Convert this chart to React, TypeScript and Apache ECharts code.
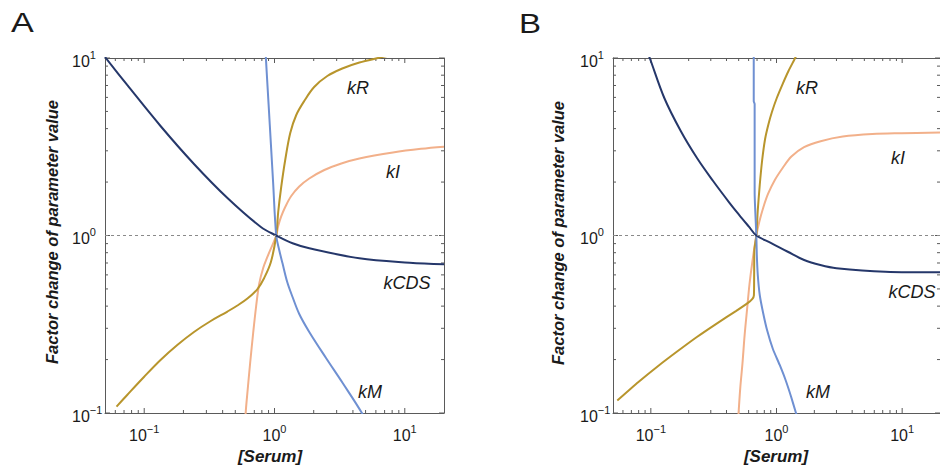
import React, { useEffect, useRef } from "react";
import * as echarts from "echarts";

const X_MIN = 0.05;
const X_MAX = 20;
const Y_MIN = 0.1;
const Y_MAX = 10;

// Panel A curves [serum, factor]
const kCDS_A = [[0.05, 10.13], [0.074, 7.05], [0.1334, 4.14], [0.241, 2.53], [0.4353, 1.627], [0.786, 1.117], [1.031, 1.0], [1.376, 0.904], [1.85, 0.847], [4.48, 0.744], [10.9, 0.703], [20, 0.688]];
const kM_A = [[0.855, 11], [0.8587, 10.02], [0.9007, 5.5], [0.94, 3.2], [0.9755, 2.0], [1.031, 1.0], [1.0868, 0.8286], [1.152, 0.6971], [1.2522, 0.547], [1.3757, 0.4503], [1.5488, 0.3612], [1.8485, 0.2861], [2.4857, 0.2041], [3.336, 0.1476], [4.687, 0.1], [5.2, 0.085]];
const kR_A = [[0.0613, 0.1086], [0.074, 0.1263], [0.0995, 0.1595], [0.1334, 0.1989], [0.1794, 0.2416], [0.241, 0.2861], [0.3242, 0.3299], [0.4353, 0.373], [0.5194, 0.4033], [0.6197, 0.4416], [0.74, 0.4994], [0.8334, 0.5763], [0.9382, 0.7089], [1.031, 1.0], [1.0677, 1.3566], [1.1259, 1.876], [1.2085, 2.663], [1.3208, 3.779], [1.469, 4.775], [1.6915, 5.725], [2.0157, 6.865], [2.5423, 7.915], [3.3145, 8.728], [4.4837, 9.432], [6.2285, 10.0], [7.5, 10.3]];
const kI_A = [[0.598, 0.09], [0.6005, 0.1], [0.6221, 0.1348], [0.6503, 0.1913], [0.6859, 0.2823], [0.7232, 0.4007], [0.7625, 0.5331], [0.8188, 0.656], [0.8834, 0.7598], [1.031, 1.0], [1.0677, 1.131], [1.1259, 1.28], [1.2085, 1.447], [1.344, 1.669], [1.5487, 1.888], [1.8485, 2.095], [2.4125, 2.339], [3.2579, 2.545], [4.4837, 2.715], [8.1006, 2.935], [13.31, 3.079], [20, 3.164]];

// Panel B curves [serum, factor]
const kCDS_B = [[0.095, 10.5], [0.098, 10], [0.128, 5.951], [0.173, 3.879], [0.233, 2.733], [0.313, 2.028], [0.421, 1.534], [0.504, 1.308], [0.603, 1.122], [0.6912, 1.0], [0.915, 0.904], [1.23, 0.81], [1.66, 0.728], [2.233, 0.682], [3.0, 0.654], [7.33, 0.625], [20, 0.62]];
const kM_B = [[0.659, 11], [0.659, 5.7], [0.67, 5.5], [0.67, 1.75], [0.6912, 1.0], [0.6973, 0.7764], [0.7097, 0.599], [0.7356, 0.4622], [0.7829, 0.366], [0.841, 0.2935], [0.9361, 0.2294], [1.0607, 0.1864], [1.1807, 0.1534], [1.3068, 0.1235], [1.4289, 0.1], [1.5, 0.09]];
const kR_B = [[0.0541, 0.1175], [0.0797, 0.1494], [0.1144, 0.184], [0.1628, 0.2226], [0.2325, 0.268], [0.332, 0.318], [0.475, 0.375], [0.589, 0.416], [0.643, 0.44], [0.661, 0.46], [0.664, 0.6], [0.667, 0.83], [0.6912, 1.0], [0.7097, 1.392], [0.7356, 1.925], [0.7692, 2.663], [0.8114, 3.498], [0.8638, 4.249], [0.9196, 4.963], [1.0054, 5.951], [1.1251, 7.202], [1.2457, 8.45], [1.4038, 9.96], [1.5, 11]];
const kI_B = [[0.497, 0.095], [0.499, 0.1], [0.5147, 0.1382], [0.536, 0.19], [0.5578, 0.275], [0.586, 0.397], [0.6099, 0.5331], [0.64, 0.697], [0.6912, 1.0], [0.729, 1.191], [0.783, 1.429], [0.856, 1.714], [0.97, 2.054], [1.119, 2.4], [1.314, 2.786], [1.657, 3.149], [2.245, 3.4], [3.37, 3.61], [5.79, 3.73], [9.88, 3.77], [20, 3.8]];

// Ticks
const xMajorTicks = [0.1, 1, 10];
const xMinorTicks = [0.06, 0.07, 0.08, 0.09, 0.2, 0.3, 0.4, 0.5, 0.6, 0.7, 0.8, 0.9, 2, 3, 4, 5, 6, 7, 8, 9];
const yMajorTicks = [0.1, 1, 10];
const yMinorTicks = [0.2, 0.3, 0.4, 0.5, 0.6, 0.7, 0.8, 0.9, 2, 3, 4, 5, 6, 7, 8, 9];

const COLORS = {
  kCDS: "#25376a",
  kM: "#6f90d2",
  kR: "#b8952c",
  kI: "#f2b08a",
};

const FONT = "'Liberation Sans', Arial, sans-serif";
const AXIS_COLOR = "#5a5a5a";
const TEXT_COLOR = "#1a1a1a";

const powLabel = (v: number) => {
  const l = Math.log10(v);
  const e = Math.round(l);
  if (Math.abs(l - e) > 1e-6) return "";
  const s = e < 0 ? "\u2212" + -e : String(e);
  return `{b|10}{s|${s}}`;
};

const richStyle = {
  b: { fontSize: 16, lineHeight: 24, fontFamily: FONT, color: TEXT_COLOR },
  s: { fontSize: 11, lineHeight: 12, verticalAlign: "top", fontFamily: FONT, color: TEXT_COLOR },
};

const tickData = [
  ...xMajorTicks.map((v) => [v, 1, 0, 1]),
  ...xMinorTicks.map((v) => [v, 1, 0, 0]),
  ...yMajorTicks.map((v) => [1, v, 1, 1]),
  ...yMinorTicks.map((v) => [1, v, 1, 0]),
];

const tickRenderer = (params: any, api: any) => {
  const kind = api.value(2);
  const major = api.value(3) === 1;
  const len = major ? 5 : 3;
  const style = { stroke: AXIS_COLOR, lineWidth: 1 };
  if (kind === 0) {
    const x = api.value(0);
    const b = api.coord([x, Y_MIN]);
    const t = api.coord([x, Y_MAX]);
    return {
      type: "group",
      children: [
        { type: "line", shape: { x1: b[0], y1: b[1], x2: b[0], y2: b[1] - len }, style },
        { type: "line", shape: { x1: t[0], y1: t[1], x2: t[0], y2: t[1] + len }, style },
      ],
    };
  }
  const y = api.value(1);
  const l = api.coord([X_MIN, y]);
  const r = api.coord([X_MAX, y]);
  return {
    type: "group",
    children: [
      { type: "line", shape: { x1: l[0], y1: l[1], x2: l[0] + len, y2: l[1] }, style },
      { type: "line", shape: { x1: r[0], y1: r[1], x2: r[0] - len, y2: r[1] }, style },
    ],
  };
};

function makeAxes(grid: number) {
  const axisLine = { show: true, lineStyle: { color: AXIS_COLOR, width: 1 } };
  const xs = [
    {
      type: "log", gridIndex: grid, min: X_MIN, max: X_MAX, position: "bottom",
      axisLine, axisTick: { show: false }, splitLine: { show: false },
      axisLabel: { formatter: powLabel, rich: richStyle, margin: 10, showMinLabel: false, showMaxLabel: false },
    },
    {
      type: "log", gridIndex: grid, min: X_MIN, max: X_MAX, position: "top",
      axisLine, axisTick: { show: false }, splitLine: { show: false }, axisLabel: { show: false },
    },
  ];
  const ys = [
    {
      type: "log", gridIndex: grid, min: Y_MIN, max: Y_MAX, position: "left",
      axisLine, axisTick: { show: false }, splitLine: { show: false },
      axisLabel: { formatter: powLabel, rich: richStyle, margin: 33, align: "left", padding: [6, 0, 0, 0] },
    },
    {
      type: "log", gridIndex: grid, min: Y_MIN, max: Y_MAX, position: "right",
      axisLine, axisTick: { show: false }, splitLine: { show: false }, axisLabel: { show: false },
    },
  ];
  return { xs, ys };
}

function lineSeries(name: string, data: number[][], color: string, axisIdx: number, extra: any = {}) {
  return {
    type: "line",
    name,
    data,
    xAxisIndex: axisIdx,
    yAxisIndex: axisIdx,
    showSymbol: false,
    smooth: 0.35,
    clip: true,
    silent: true,
    lineStyle: { color, width: 2 },
    ...extra,
  };
}

const dashedOne = {
  silent: true,
  symbol: "none",
  label: { show: false },
  lineStyle: { type: [3, 3], color: "#8a8a8a", width: 1 },
  data: [{ yAxis: 1 }],
};

function textEl(text: string, x: number, y: number, opts: any = {}) {
  return {
    type: "text",
    x,
    y,
    rotation: opts.rotation || 0,
    scaleX: opts.scaleX || 1,
    style: {
      text,
      fill: TEXT_COLOR,
      fontFamily: FONT,
      fontSize: opts.fontSize || 18,
      fontStyle: opts.fontStyle || "italic",
      fontWeight: opts.fontWeight || "normal",
      align: "center",
      verticalAlign: "middle",
    },
  };
}

export default function App() {
  const ref = useRef<HTMLDivElement>(null);
  useEffect(() => {
    if (!ref.current) return;
    const chart = echarts.init(ref.current, null, { renderer: "svg" });
    const a = makeAxes(0);
    const b = makeAxes(1);
    const option: any = {
      animation: false,
      backgroundColor: "#ffffff",
      grid: [
        { left: 105, top: 58, width: 339, height: 355 },
        { left: 613, top: 58, width: 337, height: 355 },
      ],
      xAxis: [...a.xs, ...b.xs],
      yAxis: [...a.ys, ...b.ys],
      series: [
        lineSeries("kI", kI_A, COLORS.kI, 0),
        lineSeries("kR", kR_A, COLORS.kR, 0),
        lineSeries("kM", kM_A, COLORS.kM, 0),
        lineSeries("kCDS", kCDS_A, COLORS.kCDS, 0, { markLine: dashedOne }),
        lineSeries("kI", kI_B, COLORS.kI, 2),
        lineSeries("kR", kR_B, COLORS.kR, 2, { smooth: 0.2 }),
        lineSeries("kM", kM_B, COLORS.kM, 2, { smooth: 0.2 }),
        lineSeries("kCDS", kCDS_B, COLORS.kCDS, 2, { markLine: dashedOne }),
        { type: "custom", xAxisIndex: 0, yAxisIndex: 0, data: tickData, renderItem: tickRenderer, silent: true, encode: { x: 0, y: 1 } },
        { type: "custom", xAxisIndex: 2, yAxisIndex: 2, data: tickData, renderItem: tickRenderer, silent: true, encode: { x: 0, y: 1 } },
      ],
      graphic: [
        textEl("A", 22.5, 23, { fontSize: 28, fontStyle: "normal", scaleX: 1.22 }),
        textEl("B", 530, 23, { fontSize: 28, fontStyle: "normal", scaleX: 1.18 }),
        textEl("Factor change of parameter value", 52, 232, { fontSize: 16.5, fontWeight: "bold", rotation: Math.PI / 2 }),
        textEl("Factor change of parameter value", 558, 233, { fontSize: 16.5, fontWeight: "bold", rotation: Math.PI / 2 }),
        textEl("[Serum]", 270, 456, { fontSize: 17, fontWeight: "bold" }),
        textEl("[Serum]", 776, 456, { fontSize: 17, fontWeight: "bold" }),
        textEl("kR", 358, 88),
        textEl("kI", 393, 172),
        textEl("kCDS", 407, 283),
        textEl("kM", 370, 392),
        textEl("kR", 807, 88),
        textEl("kI", 898, 158),
        textEl("kCDS", 912, 292),
        textEl("kM", 818, 392),
      ],
    };
    chart.setOption(option);
    return () => chart.dispose();
  }, []);
  return (
    <div
      ref={ref}
      style={{ position: "absolute", left: 0, top: 0, width: 940, height: 471, background: "#fff" }}
    />
  );
}
